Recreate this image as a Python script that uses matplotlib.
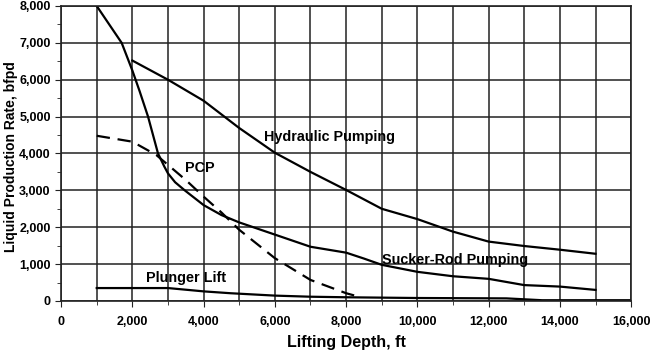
import matplotlib.pyplot as plt
from matplotlib.ticker import MultipleLocator, FuncFormatter

plt.rcParams['font.family'] = ['Liberation Sans', 'DejaVu Sans']
plt.rcParams['font.weight'] = 'bold'

# curves (depth ft, rate bfpd)
rod_depth = [1000, 1700, 2000, 2200, 2440, 2720, 2900, 3000, 3200, 3470, 4000, 4500, 5000, 6000,
             7000, 8000, 8500, 9000, 10000, 11000, 12000, 13000, 14000, 15000]
rod_rate = [8000, 7000, 6250, 5700, 5000, 4000, 3640, 3460, 3220, 3000, 2600, 2330, 2130, 1800,
            1470, 1310, 1150, 980, 790, 670, 600, 430, 390, 300]

hyd_depth = [2000, 3000, 4000, 5000, 6000, 7000, 8000, 9000, 10000, 11000, 12000, 13000, 14000, 15000]
hyd_rate = [6520, 6000, 5430, 4690, 4020, 3500, 3010, 2500, 2220, 1880, 1610, 1490, 1390, 1280]

pcp_depth = [1000, 2000, 2670, 3000, 3500, 4000, 4500, 5000, 6000, 7000, 8000, 8350]
pcp_rate = [4480, 4320, 3960, 3690, 3280, 2830, 2400, 1930, 1160, 570, 210, 117]

plunger_depth = [1000, 3000, 4000, 4750, 6000, 7000, 8000, 10000, 12500, 13500, 16000]
plunger_rate = [350, 350, 260, 210, 145, 115, 100, 80, 70, 20, 20]

fig = plt.figure(figsize=(6.5, 3.52), dpi=100)
ax = fig.add_axes([0.094, 0.145, 0.877, 0.838])

ax.plot(rod_depth, rod_rate, color='black', lw=1.6)
ax.plot(hyd_depth, hyd_rate, color='black', lw=1.6)
ax.plot(pcp_depth, pcp_rate, color='black', lw=1.6, linestyle=(0, (6, 3.5)))
ax.plot(plunger_depth, plunger_rate, color='black', lw=1.6)

ax.text(5700, 4450, 'Hydraulic Pumping', fontsize=10.4, fontweight='bold', va='center')
ax.text(3480, 3600, 'PCP', fontsize=10.4, fontweight='bold', va='center')
ax.text(9010, 1110, 'Sucker-Rod Pumping', fontsize=10.4, fontweight='bold', va='center')
ax.text(2390, 630, 'Plunger Lift', fontsize=10.4, fontweight='bold', va='center')

ax.set_xlim(0, 16000)
ax.set_ylim(0, 8000)
ax.xaxis.set_major_locator(MultipleLocator(2000))
ax.xaxis.set_minor_locator(MultipleLocator(1000))
ax.yaxis.set_major_locator(MultipleLocator(1000))
ax.yaxis.set_minor_locator(MultipleLocator(500))
fmt = FuncFormatter(lambda v, p: f'{int(v):,}')
ax.xaxis.set_major_formatter(fmt)
ax.yaxis.set_major_formatter(fmt)

ax.grid(True, which='major', color='#222222', lw=1.1)
ax.grid(True, which='minor', axis='x', color='#222222', lw=1.1)
ax.set_axisbelow(True)
for s in ax.spines.values():
    s.set_color('#222222')
    s.set_linewidth(1.2)

ax.tick_params(which='both', direction='out', color='#222222', labelsize=9)
ax.tick_params(which='major', length=4)
ax.tick_params(which='minor', length=3)
ax.tick_params(axis='x', which='major', pad=7)
for lab in ax.get_xticklabels() + ax.get_yticklabels():
    lab.set_fontweight('bold')

ax.set_xlabel('Lifting Depth, ft', fontsize=11.5, fontweight='bold', labelpad=5)
ax.set_ylabel('Liquid Production Rate, bfpd', fontsize=10, fontweight='bold')
ax.yaxis.set_label_coords(-0.076, 0.49)

fig.savefig('out.png', dpi=100)
